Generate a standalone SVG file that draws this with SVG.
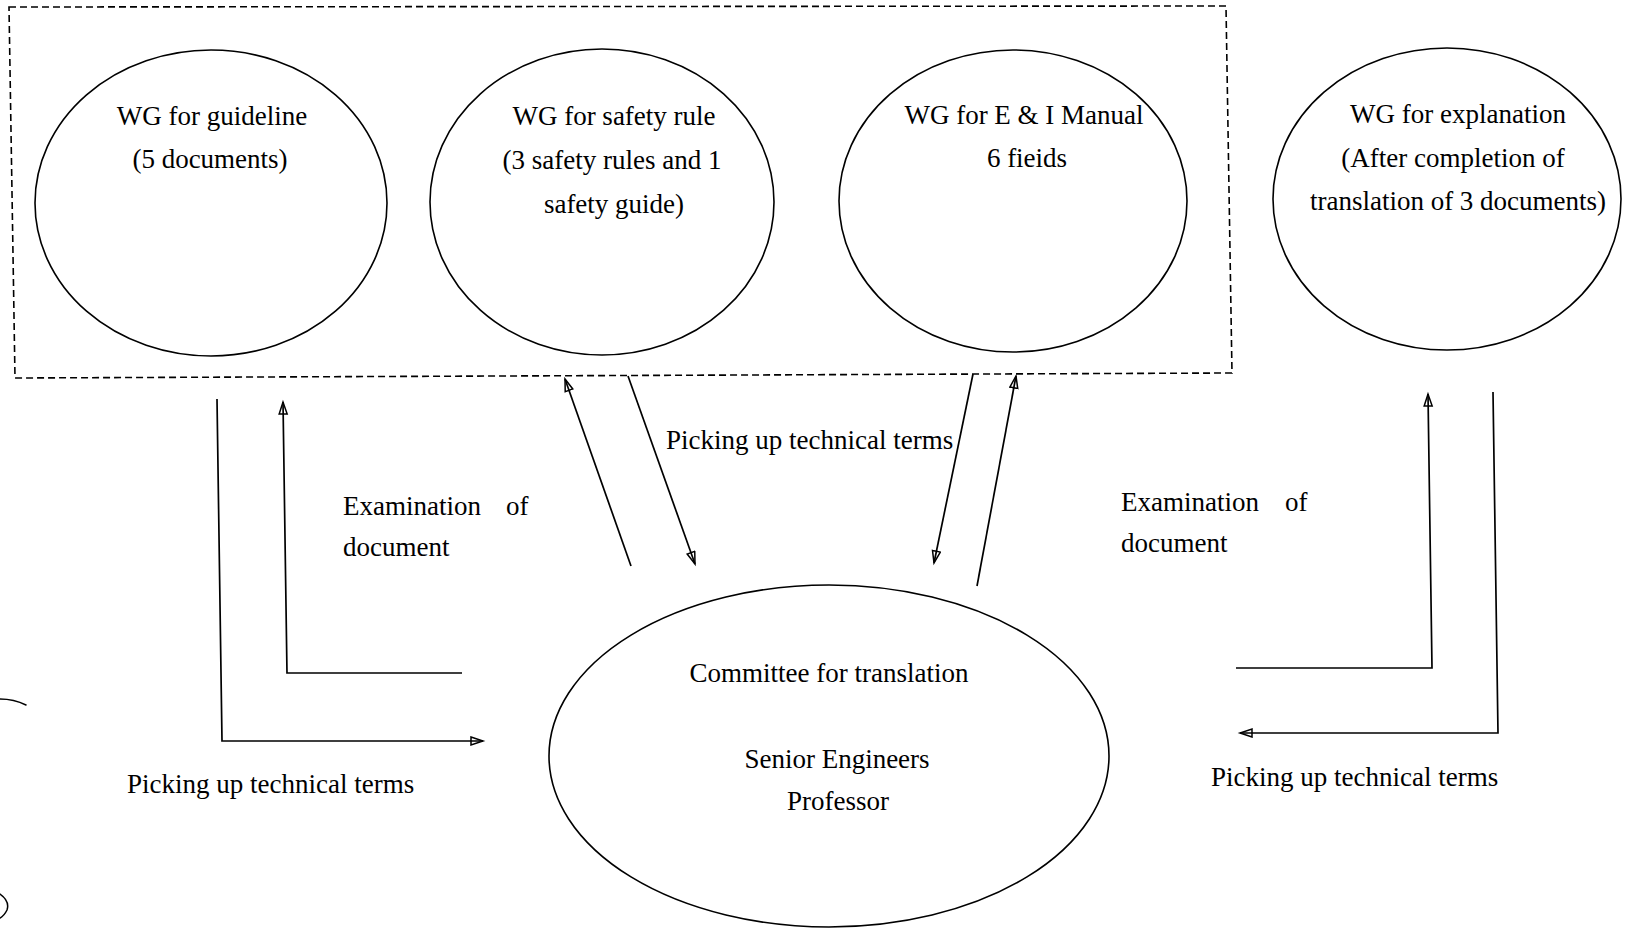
<svg xmlns="http://www.w3.org/2000/svg" width="1626" height="930" viewBox="0 0 1626 930">
  <style>
    .node { fill: none; stroke: #000; stroke-width: 1.6; }
    .label { font-family: "Liberation Serif", "Times New Roman", serif; font-size: 27px; fill: #000; }
    .mid { text-anchor: middle; }
    .conn { fill: none; stroke: #000; stroke-width: 1.7; }
    .arrow { marker-end: url(#head); }
    .group-box { fill: none; stroke: #000; stroke-width: 1.6; stroke-dasharray: 7 4; }
    .pen { fill: none; stroke: #000; stroke-width: 1.5; stroke-linecap: round; }
  </style>
  <defs>
    <marker id="head" markerUnits="userSpaceOnUse" markerWidth="16" markerHeight="12" refX="13" refY="5" orient="auto">
      <path d="M1,1 L13,5 L1,9 Z" fill="none" stroke="#000" stroke-width="1.5" stroke-linejoin="miter"/>
    </marker>
  </defs>

  <rect x="0" y="0" width="1626" height="930" fill="#fff"/>

  <!-- dashed frame around the three working groups -->
  <path class="group-box" d="M9,7 L1226,6 L1232,373 L15,378 Z"/>

  <g id="wg-guideline">
    <ellipse class="node" cx="211" cy="203" rx="176" ry="153"/>
    <text class="label mid" x="212" y="125">WG for guideline</text>
    <text class="label mid" x="210" y="168">(5 documents)</text>
  </g>

  <g id="wg-safety-rule">
    <ellipse class="node" cx="602" cy="202" rx="172" ry="153"/>
    <text class="label mid" x="614" y="125">WG for safety rule</text>
    <text class="label mid" x="612" y="169">(3 safety rules and 1</text>
    <text class="label mid" x="614" y="213">safety guide)</text>
  </g>

  <g id="wg-ei-manual">
    <ellipse class="node" cx="1013" cy="201" rx="174" ry="151"/>
    <text class="label mid" x="1024" y="124">WG for E &amp; I Manual</text>
    <text class="label mid" x="1027" y="167">6 fieids</text>
  </g>

  <g id="wg-explanation">
    <ellipse class="node" cx="1447" cy="199" rx="174" ry="151"/>
    <text class="label mid" x="1458" y="123">WG for explanation</text>
    <text class="label mid" x="1453" y="167">(After completion of</text>
    <text class="label mid" x="1458" y="210">translation of 3 documents)</text>
  </g>

  <g id="committee">
    <ellipse class="node" cx="829" cy="756" rx="280" ry="171"/>
    <text class="label mid" x="829" y="682">Committee for translation</text>
    <text class="label mid" x="837" y="768">Senior Engineers</text>
    <text class="label mid" x="838" y="810">Professor</text>
  </g>

  <g id="connectors">
    <!-- left side: committee <-> guideline WG -->
    <path class="conn arrow" d="M217,399 L222,741 L483,741"/>
    <path class="conn arrow" d="M462,673 L287,673 L283,402"/>
    <!-- centre-left pair -->
    <path class="conn arrow" d="M631,566 L565,379"/>
    <path class="conn arrow" d="M628,376 L695,564"/>
    <!-- centre-right pair -->
    <path class="conn arrow" d="M973,374 L934,563"/>
    <path class="conn arrow" d="M977,586 L1016,376"/>
    <!-- right side: committee <-> explanation WG -->
    <path class="conn arrow" d="M1236,668 L1432,668 L1428,394"/>
    <path class="conn arrow" d="M1493,392 L1498,733 L1240,733"/>
  </g>

  <g id="connector-labels">
    <text class="label" x="666" y="449">Picking up technical terms</text>
    <text class="label" x="343" y="515">Examination<tspan x="506">of</tspan></text>
    <text class="label" x="343" y="556">document</text>
    <text class="label" x="1121" y="511">Examination<tspan x="1285">of</tspan></text>
    <text class="label" x="1121" y="552">document</text>
    <text class="label" x="127" y="793">Picking up technical terms</text>
    <text class="label" x="1211" y="786">Picking up technical terms</text>
  </g>

  <!-- pen strokes at the left margin -->
  <path class="pen" d="M0,699 Q14,699 26,705"/>
  <path class="pen" d="M0,894 Q10,901 7,910 Q4,916 0,918"/>
</svg>
